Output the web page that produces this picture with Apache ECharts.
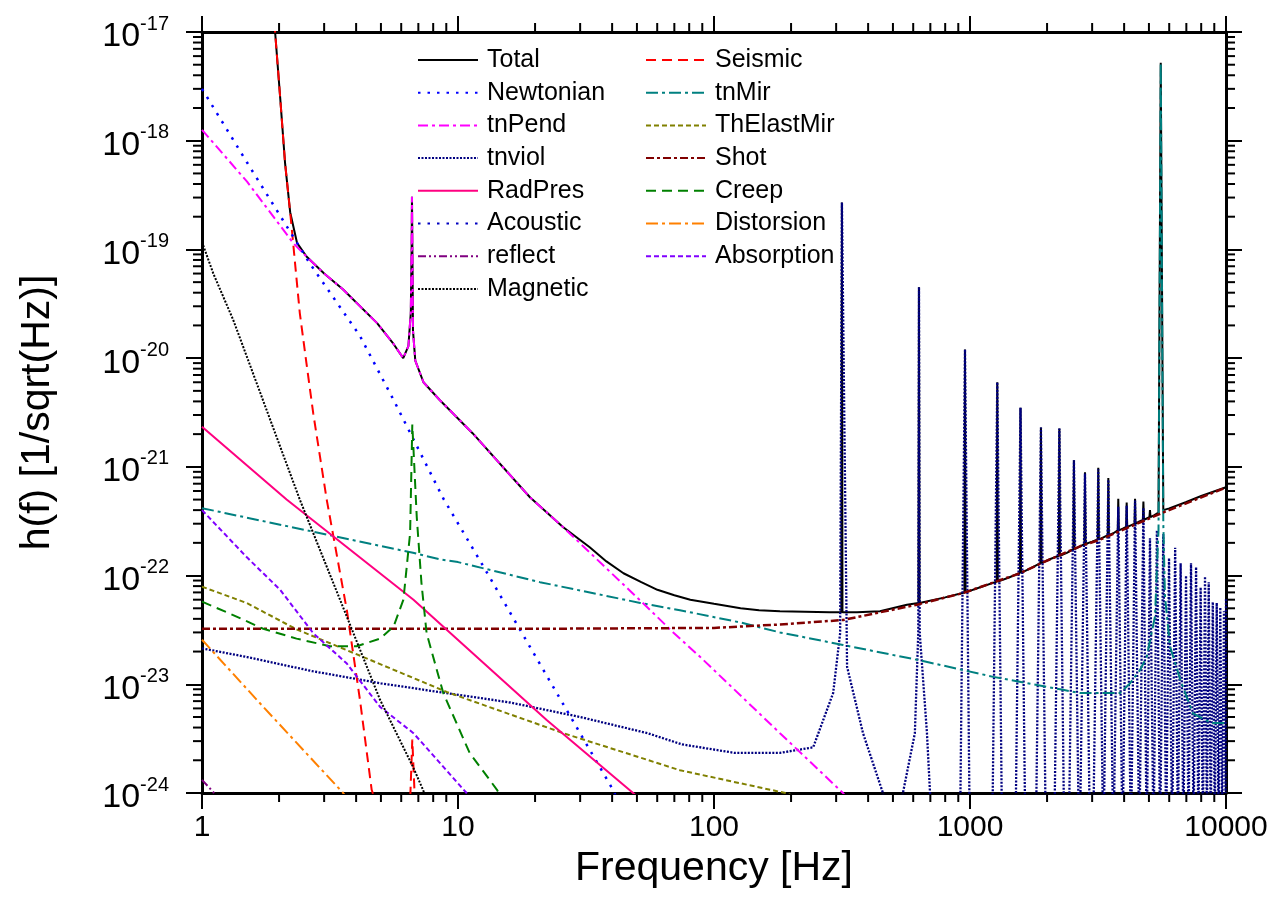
<!DOCTYPE html>
<html>
<head>
<meta charset="utf-8">
<script src="https://cdn.jsdelivr.net/npm/echarts@6/dist/echarts.min.js"></script>
<style>
html, body { margin: 0; padding: 0; background: #fff; }
#chart { width: 1280px; height: 911px; }
</style>
</head>
<body>
<div id="chart"></div>
<script>
// Axis tick labels (decades)
const xTickLabels = ['1', '10', '100', '1000', '10000'];
const yTickExponents = [-24, -23, -22, -21, -20, -19, -18, -17];

// Noise budget curves, [frequency in Hz, h(f) in 1/sqrt(Hz)]
const totalLow = [
  [1.88, 2.4e-17], [1.93, 1e-17], [2.02, 2.5e-18], [2.11, 6.3e-19], [2.21, 2.2e-19],
  [2.35, 1.15e-19], [2.56, 8.6e-20], [3.0, 6.0e-20], [3.55, 4.3e-20], [4.83, 2.1e-20], [5.6, 1.35e-20],
  [6.11, 1.0e-20], [6.40, 1.29e-20], [6.54, 2.6e-20], [6.59, 1.07e-19], [6.61, 3.05e-19],
  [6.65, 5.2e-20], [6.67, 1.8e-20], [6.81, 9.5e-21], [7.33, 6.0e-21], [8.5, 4.1e-21],
  [11.4, 2.04e-21], [19.1, 5.25e-22], [25.7, 2.8e-22], [32.7, 1.82e-22], [38, 1.35e-22],
  [44.3, 1.05e-22], [52, 8.7e-23], [60.1, 7.4e-23], [70, 6.6e-23], [80.8, 6.0e-23],
  [100, 5.5e-23], [127, 5.0e-23], [150, 4.8e-23], [181, 4.7e-23], [283, 4.6e-23]
];
const totalHigh = [
  [362, 4.6e-23], [445, 4.7e-23], [567, 5.4e-23], [800, 6.3e-23], [1110, 7.9e-23],
  [1420, 9.6e-23], [1730, 1.17e-22], [2060, 1.42e-22], [2390, 1.62e-22], [2680, 1.85e-22],
  [3000, 2.05e-22], [3320, 2.25e-22], [3630, 2.45e-22], [3950, 2.7e-22], [4250, 2.9e-22],
  [4590, 3.15e-22], [4900, 3.35e-22], [5250, 3.6e-22], [5450, 3.8e-22], [5560, 5.2e-18],
  [5690, 4.0e-22], [6000, 4.15e-22], [7000, 4.75e-22], [8000, 5.4e-22], [10000, 6.5e-22]
];
const totalModeHz = [316, 632, 956, 1278, 1575, 1893, 2234, 2547, 2813, 3170, 3470, 3795, 4093, 4413, 4757, 5047];
const totalModePeak = [2.7e-19, 4.5e-20, 1.2e-20, 6.0e-21, 3.5e-21, 2.3e-21, 2.25e-21, 1.15e-21, 8.9e-22, 9.8e-22, 7.9e-22, 5.1e-22, 4.7e-22, 5.1e-22, 4.8e-22, 4.0e-22];
const totalModeFoot = [4.6e-23, 5.6e-23, 7.0e-23, 8.8e-23, 1.06e-22, 1.3e-22, 1.52e-22, 1.75e-22, 1.95e-22, 2.15e-22, 2.35e-22, 2.6e-22, 2.8e-22, 3.0e-22, 3.25e-22, 3.45e-22];

const seismic = [
  [1.88, 2.4e-17], [1.93, 1e-17], [2.02, 2.5e-18], [2.11, 6.3e-19], [2.21, 2.2e-19],
  [2.27, 1.15e-19], [2.31, 7.4e-20], [2.41, 2.6e-20], [2.56, 8.9e-21], [2.72, 3.1e-21],
  [3.07, 5.0e-22], [3.68, 4.8e-23], [4.14, 7.2e-24], [4.6, 1.07e-24], [5.5, 3e-25],
  [6.45, 5e-25], [6.63, 3.1e-24], [6.85, 5e-25]
];
const newtonian = [
  [1, 3.0e-18], [1.5, 6.3e-19], [2.64, 7.4e-20], [4.14, 1.6e-20], [5.58, 4.2e-21],
  [8.77, 5.1e-22], [12.6, 1.2e-22], [19.7, 1.95e-23], [40.3, 1.07e-24], [45, 6e-25]
];
const tnMir = [
  [1, 4.17e-22], [6.67, 1.62e-22], [8.5, 1.41e-22], [10, 1.33e-22], [20.9, 8.7e-23],
  [51.5, 5.6e-23], [73.6, 4.8e-23], [127, 3.7e-23], [181, 3.0e-23], [319, 2.3e-23],
  [637, 1.66e-23], [1234, 1.17e-23], [2308, 8.9e-24], [2690, 8.3e-24], [3855, 8.3e-24],
  [4215, 1.02e-23], [4613, 1.35e-23], [4898, 1.78e-23], [5280, 4.2e-23], [5450, 2.63e-22],
  [5560, 5.2e-18], [5690, 3.0e-22], [5775, 6.5e-23], [6040, 2.24e-23], [6630, 1.1e-23],
  [7430, 5.4e-24], [8770, 4.4e-24], [10000, 4.4e-24]
];
const tnPend = [
  [1, 1.26e-18], [1.5, 4.2e-19], [2.275, 1.14e-19], [2.56, 8.6e-20], [3.0, 6.0e-20], [3.55, 4.3e-20],
  [4.83, 2.1e-20], [5.6, 1.35e-20], [6.11, 1.0e-20], [6.40, 1.29e-20], [6.54, 2.6e-20],
  [6.59, 1.07e-19], [6.61, 3.05e-19], [6.65, 5.2e-20], [6.67, 1.8e-20], [6.81, 9.5e-21],
  [7.33, 6.0e-21], [8.5, 4.1e-21], [11.4, 2.04e-21], [19.1, 5.25e-22], [25.7, 2.8e-22],
  [38.2, 1.15e-22], [51.5, 5.9e-23], [69.3, 3.0e-23], [88.4, 1.78e-23], [181, 3.55e-24],
  [319, 1.0e-24], [360, 7e-25]
];
const thElastMir = [
  [1, 7.9e-23], [1.494, 5.6e-23], [2.34, 3.2e-23], [4.27, 1.78e-23], [9.03, 8.5e-24],
  [25.8, 3.55e-24], [73.6, 1.62e-24], [190, 1.0e-24], [230, 8.5e-25]
];
const shot = [
  [1, 3.24e-23], [20, 3.24e-23], [100, 3.3e-23], [181, 3.55e-23], [319, 3.9e-23],
  [621, 5.4e-23], [939, 6.9e-23], [1567, 1.05e-22], [1928, 1.32e-22], [2690, 1.86e-22],
  [3221, 2.14e-22], [5675, 3.8e-22], [10000, 6.46e-22]
];
const radPres = [[1, 2.34e-21], [2.14, 5.0e-22], [6.7, 6.0e-23], [22.2, 4.7e-24], [48.3, 1.0e-24], [55, 7.7e-25]];
const creep = [
  [1, 5.75e-23], [1.285, 4.47e-23], [1.735, 3.24e-23], [2.34, 2.63e-23], [3.16, 2.24e-23],
  [4.02, 2.24e-23], [4.96, 2.63e-23], [5.6, 3.39e-23], [6.12, 6.0e-23], [6.5, 2.45e-22],
  [6.63, 2.45e-21], [6.9, 3.47e-22], [7.2, 8.5e-23], [7.54, 2.95e-23], [8.76, 8.3e-24],
  [11.1, 2.34e-24], [14.2, 1.07e-24], [15, 8.5e-25]
];
const acoustic = [];
const distorsion = [[1, 2.57e-23], [1.735, 6.2e-24], [3.56, 1.0e-24], [4, 7e-25]];
const reflect = [[1, 1.32e-24], [1.107, 1.02e-24], [1.2, 7e-25]];
const absorption = [
  [1, 4.0e-22], [1.494, 1.48e-22], [2.02, 7.4e-23], [2.72, 2.95e-23], [3.68, 1.55e-23],
  [4.96, 6.2e-24], [6.7, 3.55e-24], [10.8, 1.0e-24], [12, 7.5e-25]
];
const magnetic = [
  [1, 1.17e-19], [1.107, 6.0e-20], [1.325, 2.24e-20], [2.41, 5.0e-22], [3.46, 6.0e-23],
  [4.96, 7.2e-24], [6.67, 1.74e-24], [7.3, 1.07e-24], [7.8, 7e-25]
];

// Violin thermal noise: broadband part with the first two modes, then the higher harmonics
const violinSkirt = [
  [1, 2.14e-23], [1.5, 1.78e-23], [2.7, 1.32e-23], [5, 1.02e-23], [9, 8.3e-24],
  [16, 6.8e-24], [30, 5.0e-24], [55, 3.55e-24], [75, 2.8e-24], [120, 2.34e-24],
  [181, 2.34e-24], [244, 2.63e-24], [292, 8.3e-24], [311, 2.95e-23], [316, 2.7e-19],
  [331, 1.45e-23], [382, 3.55e-24], [457, 1.0e-24], [500, 3e-25], [547, 1.0e-24],
  [609, 3.55e-24], [628, 3e-23], [632, 4.5e-20], [636, 3e-23], [679, 3.55e-24],
  [698, 1.0e-24], [780, 3e-25]
];
const violinHz = [956, 1278, 1575, 1893, 2234, 2547, 2813, 3170, 3470, 3795, 4093, 4413, 4757, 5047, 5372,
  5688, 5990, 6330, 6650, 6980, 7300, 7640, 7960, 8280, 8560, 8880, 9200, 9500, 9820];
const violinPeak = [1.2e-20, 6.0e-21, 3.5e-21, 2.3e-21, 2.25e-21, 1.15e-21, 8.7e-22, 9.5e-22, 7.6e-22, 4.3e-22,
  4.4e-22, 4.9e-22, 4.2e-22, 2.2e-22, 2.6e-22, 2.4e-22, 1.45e-22, 1.8e-22, 1.3e-22, 1.0e-22,
  1.3e-22, 1.2e-22, 7.8e-23, 9.8e-23, 8.7e-23, 5.7e-23, 5.6e-23, 5.1e-23, 4.7e-23];
const violinFloor = 3e-25;
const violinEdge = [10000, 6.2e-23];

// Both axes run in decades (log10 of Hz and of 1/sqrt(Hz))
const X_MIN = 0, X_MAX = 4, Y_MIN = -24, Y_MAX = -17;
const FOOT_H = Math.pow(10, Y_MIN);

function toDecades(pts) {
  return pts.map(p => [Math.log10(p[0]), Math.log10(p[1])]);
}

function buildViolin() {
  const pts = violinSkirt.slice();
  for (let i = 0; i < violinHz.length; i++) {
    const f = violinHz[i];
    const prev = i > 0 ? violinHz[i - 1] : 632;
    const next = i < violinHz.length - 1 ? violinHz[i + 1] : f + 320;
    const wl = Math.min(0.04 * f, 0.42 * (f - prev));
    const wr = Math.min(0.04 * f, 0.42 * (next - f));
    pts.push([f - wl, FOOT_H], [f, violinPeak[i]], [f + wr, FOOT_H]);
    if (i < violinHz.length - 1) pts.push([Math.sqrt(f * next), violinFloor]);
  }
  pts.push(violinEdge);
  return pts;
}

function buildTotal() {
  const pts = totalLow.concat(totalHigh);
  for (let i = 0; i < totalModeHz.length; i++) {
    const f = totalModeHz[i];
    pts.push([f * 0.995, totalModeFoot[i]], [f, totalModePeak[i]], [f * 1.005, totalModeFoot[i]]);
  }
  return pts.sort((a, b) => a[0] - b[0]);
}

// Minor ticks at 2..9 within each decade, on all four frame sides
const minorX = [];
for (let k = X_MIN; k < X_MAX; k++) for (let m = 2; m <= 9; m++) minorX.push([k + Math.log10(m), Y_MIN]);
const minorY = [];
for (let k = Y_MIN; k < Y_MAX; k++) for (let m = 2; m <= 9; m++) minorY.push([X_MIN, k + Math.log10(m)]);

const FONT = "'Liberation Sans', Arial, sans-serif";
const MINOR_LEN = 9;

function tickLine(x1, y1, x2, y2) {
  return { type: 'line', shape: { x1, y1, x2, y2 }, style: { stroke: '#000', lineWidth: 2 } };
}

function lineSeries(name, data, color, dash, width) {
  return {
    name, type: 'line', data: toDecades(data), symbol: 'none', showSymbol: false, clip: true,
    lineStyle: { color, width: width || 2, type: dash || 'solid' },
    itemStyle: { color },
    emphasis: { disabled: true }
  };
}

const chart = echarts.init(document.getElementById('chart'));

const legendText = { fontFamily: FONT, fontSize: 25, color: '#000', lineHeight: 26, padding: [0, 0, 0, 4] };
const axisLineStyle = { onZero: false, lineStyle: { color: '#000', width: 3 } };
const majorTick = { inside: false, length: 16, lineStyle: { color: '#000', width: 2 } };

const option = {
  animation: false,
  backgroundColor: '#fff',
  grid: { left: 202, right: 54, top: 32, bottom: 118, containLabel: false, outerBoundsMode: 'none' },
  legend: [
    {
      orient: 'vertical', left: 412, top: 42, itemWidth: 60, itemHeight: 14, itemGap: 6.7,
      textStyle: legendText, selectedMode: false, itemStyle: { opacity: 0 },
      data: ['Total', 'Newtonian', 'tnPend', 'tnviol', 'RadPres', 'Acoustic', 'reflect', 'Magnetic']
    },
    {
      orient: 'vertical', left: 640, top: 42, itemWidth: 60, itemHeight: 14, itemGap: 6.7,
      textStyle: legendText, selectedMode: false, itemStyle: { opacity: 0 },
      data: ['Seismic', 'tnMir', 'ThElastMir', 'Shot', 'Creep', 'Distorsion', 'Absorption']
    }
  ],
  xAxis: [
    {
      type: 'value', min: X_MIN, max: X_MAX, interval: 1, position: 'bottom',
      name: 'Frequency [Hz]', nameLocation: 'middle', nameGap: 42,
      nameTextStyle: { fontFamily: FONT, fontSize: 41, color: '#000' },
      axisLine: axisLineStyle, axisTick: majorTick,
      axisLabel: {
        margin: 20, fontFamily: FONT, fontSize: 30, color: '#000', showMinLabel: true, showMaxLabel: true,
        formatter: v => xTickLabels[Math.round(v) - X_MIN]
      },
      splitLine: { show: false }
    },
    {
      type: 'value', min: X_MIN, max: X_MAX, interval: 1, position: 'top',
      axisLine: axisLineStyle, axisTick: majorTick,
      axisLabel: { show: false }, splitLine: { show: false }
    }
  ],
  yAxis: [
    {
      type: 'value', min: Y_MIN, max: Y_MAX, interval: 1, position: 'left',
      name: 'h(f) [1/sqrt(Hz)]', nameLocation: 'middle', nameGap: 144,
      nameTextStyle: { fontFamily: FONT, fontSize: 41, color: '#000' },
      axisLine: axisLineStyle, axisTick: majorTick,
      axisLabel: {
        margin: 33, showMinLabel: true, showMaxLabel: true, padding: [10, 0, 0, 0],
        formatter: v => '{b|10}{s|' + yTickExponents[Math.round(v) - Y_MIN] + '}',
        rich: {
          b: { fontFamily: FONT, fontSize: 34, color: '#000', lineHeight: 46, verticalAlign: 'middle' },
          s: { fontFamily: FONT, fontSize: 20, color: '#000', verticalAlign: 'top' }
        }
      },
      splitLine: { show: false }
    },
    {
      type: 'value', min: Y_MIN, max: Y_MAX, interval: 1, position: 'right',
      axisLine: axisLineStyle, axisTick: majorTick,
      axisLabel: { show: false }, splitLine: { show: false }
    }
  ],
  series: [
    lineSeries('Total', buildTotal(), '#000000', 'solid', 2),
    lineSeries('tnviol', buildViolin(), '#000080', [2, 1.5], 2.3),
    lineSeries('Seismic', seismic, '#ff0000', [10, 6], 2),
    lineSeries('Newtonian', newtonian, '#0000ff', [2.5, 7], 2.5),
    lineSeries('tnMir', tnMir, '#008080', [12, 4, 3, 4], 2),
    lineSeries('tnPend', tnPend, '#ff00ff', [10, 4, 3, 4], 2),
    lineSeries('ThElastMir', thElastMir, '#808000', [5, 3], 2),
    lineSeries('Shot', shot, '#800000', [8, 3, 3, 3], 2.5),
    lineSeries('RadPres', radPres, '#ff0080', 'solid', 2),
    lineSeries('Creep', creep, '#008000', [10, 6], 2),
    lineSeries('Acoustic', acoustic, '#0000c0', [2.5, 7], 2.5),
    lineSeries('Distorsion', distorsion, '#ff8000', [12, 4, 3, 4], 2),
    lineSeries('reflect', reflect, '#800080', [8, 3, 2, 3, 2, 3], 2),
    lineSeries('Absorption', absorption, '#8000ff', [5, 3], 2),
    lineSeries('Magnetic', magnetic, '#000000', [2, 1.5], 2),
    {
      type: 'custom', silent: true, clip: false, xAxisIndex: 0, yAxisIndex: 0, data: minorX,
      renderItem: (params, api) => {
        const b = api.coord([api.value(0), Y_MIN]);
        const t = api.coord([api.value(0), Y_MAX]);
        return { type: 'group', children: [
          tickLine(b[0], b[1], b[0], b[1] + MINOR_LEN),
          tickLine(t[0], t[1], t[0], t[1] - MINOR_LEN)
        ] };
      }
    },
    {
      type: 'custom', silent: true, clip: false, xAxisIndex: 0, yAxisIndex: 0, data: minorY,
      renderItem: (params, api) => {
        const l = api.coord([X_MIN, api.value(1)]);
        const r = api.coord([X_MAX, api.value(1)]);
        return { type: 'group', children: [
          tickLine(l[0], l[1], l[0] - MINOR_LEN, l[1]),
          tickLine(r[0], r[1], r[0] + MINOR_LEN, r[1])
        ] };
      }
    }
  ]
};

chart.setOption(option);
</script>
</body>
</html>
